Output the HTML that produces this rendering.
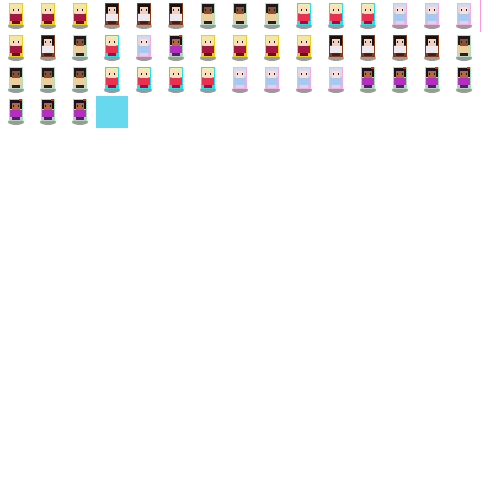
<!DOCTYPE html>
<html><head><meta charset="utf-8"><style>
html,body{margin:0;padding:0;background:#fff;width:500px;height:500px;overflow:hidden}
svg{display:block}
</style></head><body>
<svg id="sheet" width="500" height="500" viewBox="0 0 500 500" shape-rendering="crispEdges">
<rect x="96" y="96" width="32" height="32" fill="#66d9ee"/>
<rect x="480" y="0" width="1" height="32" fill="#ff99dd"/>
</svg>
<script>
const rows = [
 "AAABBBCCCDDDEEE",
 "ABCDEFAAAABBBBC",
 "CCCDDDDEEEEFFFF",
 "FFF"
];
const types = {
 A:{outline:"#e8d020",hair:"#f4e89a",skin:"#f8dcc8",shirt:"#a8183c",legs:"#601020"},
 B:{outline:"#8a3a10",hair:"#1a1010",skin:"#f4d0c0",shirt:"#f0e8f0",legs:"#402020"},
 C:{outline:"#b0e0c0",hair:"#201818",skin:"#8a5030",shirt:"#e8d0a0",legs:"#301830"},
 D:{outline:"#20e0f0",hair:"#f4eab0",skin:"#f8dcc8",shirt:"#e83050",legs:"#a01030"},
 E:{outline:"#f4b0e0",hair:"#d8d8e8",skin:"#f8e0d8",shirt:"#a8c8f0",legs:"#e0d0f0"},
 F:{outline:"#a0e0b0",hair:"#201018",skin:"#b06848",shirt:"#b030c0",legs:"#601860"}
};
const svg = document.getElementById('sheet');
const NS = "http://www.w3.org/2000/svg";
function r(g,x,y,w,h,f){const e=document.createElementNS(NS,'rect');e.setAttribute('x',x);e.setAttribute('y',y);e.setAttribute('width',w);e.setAttribute('height',h);e.setAttribute('fill',f);g.appendChild(e);}
rows.forEach((row,ri)=>{
 [...row].forEach((t,ci)=>{
  const c=types[t];
  const g=document.createElementNS(NS,'g');
  g.setAttribute('transform',`translate(${ci*32},${ri*32})`);
  
  
  const sh=document.createElementNS(NS,'ellipse');
  sh.setAttribute('cx',16);sh.setAttribute('cy',26);sh.setAttribute('rx',8);sh.setAttribute('ry',3);sh.setAttribute('fill','#9a9a9a');
  g.appendChild(sh);
  r(g,9,3,14,22,c.outline);
  r(g,10,4,12,9,c.hair);
  r(g,12,7,8,7,c.skin);
  r(g,13,9,1,2,'#301818');r(g,18,9,1,2,'#301818');
  r(g,10,14,12,7,c.shirt);
  r(g,12,21,8,3,c.legs);
  if(t==='F'){r(g,19,3,3,2,'#e02040');}
  svg.appendChild(g);
 });
});
</script>
</body></html>
